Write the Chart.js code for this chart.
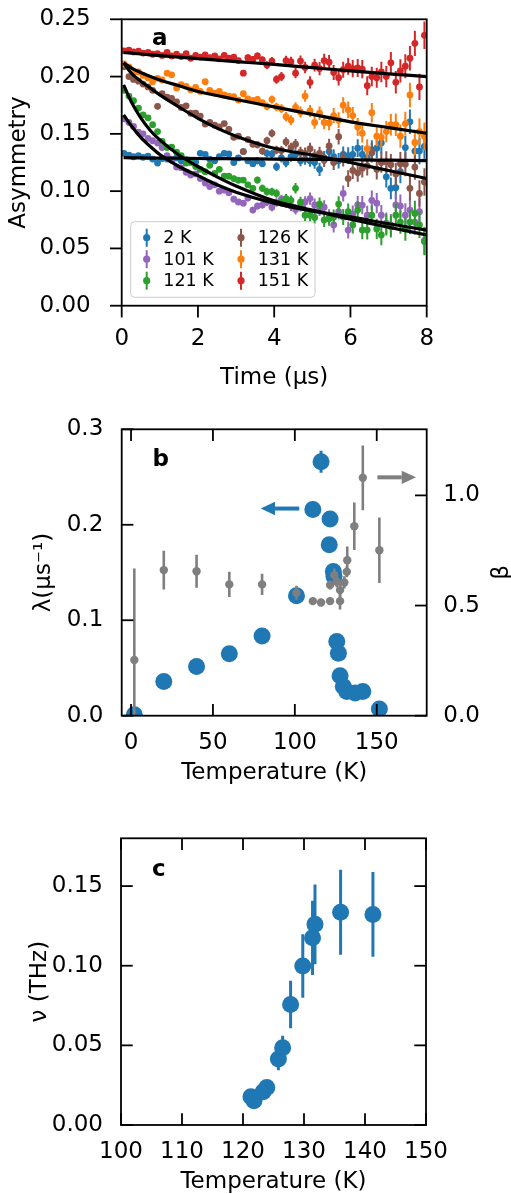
<!DOCTYPE html>
<html>
<head>
<meta charset="utf-8">
<script src="https://cdn.jsdelivr.net/npm/chart.js@4.4.0/dist/chart.umd.min.js"></script>
<style>
  html, body { margin: 0; padding: 0; background: #fff; }
  #wrap { position: relative; width: 511px; height: 1194px; }
  canvas { position: absolute; left: 0; }
</style>
</head>
<body>
<div id="wrap">
  <canvas id="chartA" width="511" height="400" style="top:0px"></canvas>
  <canvas id="chartB" width="511" height="400" style="top:400px"></canvas>
  <canvas id="chartC" width="511" height="394" style="top:800px"></canvas>
</div>
<script>
// ---- panel a : asymmetry vs time ----
var timeA = [0.06,0.19,0.31,0.44,0.56,0.69,0.81,0.94,
  1.06,1.19,1.31,1.44,1.56,1.69,1.81,1.94,
  2.06,2.19,2.31,2.44,2.56,2.69,2.81,2.94,
  3.06,3.19,3.31,3.44,3.56,3.69,3.81,3.94,
  4.06,4.19,4.31,4.44,4.56,4.69,4.81,4.94,
  5.06,5.19,5.31,5.44,5.56,5.69,5.81,5.94,
  6.06,6.19,6.31,6.44,6.56,6.69,6.81,6.94,
  7.06,7.19,7.31,7.44,7.56,7.69,7.81,7.94];

var errA = [.0008,.0008,.0009,.0009,.0010,.0010,.0011,.0011,
  .0012,.0012,.0013,.0014,.0014,.0015,.0016,.0017,
  .0017,.0018,.0019,.0020,.0021,.0022,.0023,.0024,
  .0025,.0026,.0028,.0029,.0031,.0032,.0034,.0035,
  .0037,.0039,.0041,.0043,.0045,.0048,.0050,.0053,
  .0055,.0058,.0060,.0063,.0065,.0068,.0070,.0073,
  .0075,.0078,.0080,.0083,.0085,.0088,.0090,.0093,
  .0095,.0098,.0101,.0104,.0107,.0111,.0115,.0120];

var asym2K = [.1330,.1315,.1300,.1310,.1295,.1305,.1280,.1245,
  .1285,.1280,.1270,.1290,.1265,.1275,.1260,.1255,
  .1330,.1320,.1280,.1265,.1300,.1330,.1325,.1250,
  .1290,.1345,.1265,.1240,.1265,.1240,.1330,.1325,
  .1213,.1290,.1250,.1300,.1320,.1265,.1280,.1265,
  .1250,.1190,.1290,.1345,.1300,.1265,.1320,.1310,
  .1320,.1375,.1320,.1290,.1360,.1375,.1420,.1125,
  .1025,.1030,.1170,.1380,.1605,.1350,.1350,.1390];

var asym101K = [.1630,.1600,.1565,.1515,.1500,.1460,.1440,.1420,
  .1380,.1310,.1280,.1210,.1205,.1165,.1140,.1150,
  .1110,.1070,.1040,.1055,.1000,.1010,.0985,.0930,
  .0905,.0895,.0940,.0835,.0870,.0880,.0905,.0860,
  .0900,.0930,.0895,.0870,.0840,.0870,.0905,.0935,
  .0880,.0840,.0860,.0780,.0705,.0820,.0980,.0660,
  .0800,.0880,.0878,.0790,.0920,.0895,.0790,.0720,
  .0705,.0880,.0870,.0790,.0835,.0730,.0820,.0570];

var asym121K = [.1880,.1830,.1790,.1725,.1665,.1640,.1580,.1520,
  .1435,.1380,.1385,.1340,.1310,.1245,.1250,.1215,
  .1190,.1170,.1225,.1155,.1190,.1130,.1130,.1110,
  .1095,.1097,.1055,.1025,.1097,.1025,.0995,.0995,
  .0980,.0904,.0935,.0920,.1025,.0904,.0790,.0790,
  .0770,.0887,.0747,.0760,.0775,.0887,.0775,.0820,
  .0705,.0835,.0660,.0660,.0790,.0670,.0617,.0705,
  .0690,.0790,.0730,.0670,.0730,.0805,.0705,.0560];

var asym126K = [.2085,.2000,.1975,.1960,.1935,.1910,.1880,.1740,
  .1850,.1820,.1810,.1780,.1730,.1745,.1680,.1680,
  .1655,.1585,.1600,.1575,.1560,.1590,.1540,.1470,
  .1480,.1345,.1450,.1410,.1405,.1350,.1440,.1505,
  .1360,.1355,.1430,.1380,.1410,.1340,.1330,.1370,
  .1310,.1330,.1270,.1395,.1250,.1475,.1285,.1110,
  .1180,.1160,.1200,.1220,.1335,.1190,.1250,.1255,
  .1230,.1150,.1240,.1235,.1025,.1210,.0980,.1080];

var asym131K = [.2110,.2085,.2040,.2040,.2010,.1990,.1955,.1985,
  .1970,.2030,.2015,.1900,.1930,.1915,.1885,.1905,
  .1870,.1955,.1880,.1855,.1870,.1840,.1830,.1825,
  .1795,.1850,.1805,.1790,.1800,.1770,.1740,.1800,
  .1735,.1720,.1650,.1620,.1730,.1690,.1830,.1700,
  .1600,.1680,.1600,.1595,.1660,.1620,.1750,.1710,
  .1660,.1560,.1505,.1370,.1685,.1480,.1470,.1520,
  .1580,.1580,.1480,.1590,.1840,.1425,.1520,.1480];

var asym151K = [.2225,.2230,.2215,.2222,.2205,.2210,.2195,.2200,
  .2185,.2210,.2180,.2195,.2175,.2200,.2160,.2185,
  .2170,.2190,.2165,.2180,.2155,.2185,.2160,.2170,
  .2140,.2030,.2165,.2150,.2180,.2145,.2100,.2135,
  .1975,.2000,.2140,.2130,.2030,.2135,.2080,.1950,
  .2100,.2070,.2140,.2125,.2035,.1990,.2060,.2090,
  .2070,.2075,.2065,.1920,.2000,.1990,.2040,.2000,
  .2120,.1950,.2050,.2090,.2160,.2290,.1910,.2360];

// fitted curves
var fitTime = [0.05,0.25,0.5,0.75,1,1.5,2,2.5,3,4,5,6,7,8];
var fit2K   = [.1292,.1291,.1290,.1289,.1288,.1287,.1285,.1284,.1282,.1280,.1277,.1274,.1270,.1266];
var fit101K = [.1665,.1570,.1470,.1390,.1320,.1215,.1135,.1055,.0990,.0895,.0825,.0775,.0715,.0660];
var fit121K = [.1927,.1780,.1640,.1530,.1447,.1315,.1215,.1125,.1045,.0915,.0835,.0755,.0685,.0617];
var fit126K = [.2120,.2030,.1960,.1900,.1840,.1735,.1636,.1550,.1480,.1374,.1315,.1250,.1180,.1110];
var fit131K = [.2120,.2075,.2035,.2000,.1970,.1920,.1870,.1835,.1800,.1735,.1670,.1605,.1555,.1505];
var fit151K = [.2210,.2204,.2197,.2190,.2183,.2170,.2157,.2144,.2131,.2106,.2078,.2050,.2024,.2000];

var tickA_x = [0, 2, 4, 6, 8];
var tickA_y = [0, 0.05, 0.10, 0.15, 0.20, 0.25];

// ---- panel b : lambda and beta vs temperature ----
var tempLam   = [2, 20, 40, 60, 80, 101, 111, 116, 121.5, 121, 123.5, 123.9, 125.6, 126.6, 127.6, 129.6, 131.7, 136.8, 141.5, 151.6];
var lambdaVal = [.001, .0358, .0515, .0648, .0836, .1257, .216, .266, .206, .179, .151, .146, .0777, .0655, .0418, .0306, .0254, .0237, .0254, .007];
var lambdaErr = [.002, .002, .002, .002, .002, .003, .004, .0115, .004, .004, .003, .003, .003, .003, .002, .002, .002, .002, .002, .002];

var tempBeta = [2, 20, 40, 60, 80, 101, 111, 116, 121.5, 121.5, 124.1, 125.6, 127.6, 127.6, 130.2, 131.7, 132, 136.3, 141.5, 151.6];
var betaVal  = [.253, .661, .656, .596, .596, .558, .520, .514, .520, .593, .638, .608, .520, .570, .605, .653, .706, .860, 1.080, .751];
var betaErr  = [.415, .088, .075, .057, .048, .032, .010, .010, .012, .020, .030, .025, .038, .030, .028, .025, .062, .108, .147, .149];

var arrowLam  = [102.7, 79.2, 0.217];   // from T, to T, at lambda
var arrowBeta = [150.4, 174.0, 1.082];  // from T, to T, at beta

var tickB_x = [0, 50, 100, 150];
var tickB_y = [0, 0.1, 0.2, 0.3];
var tickB_beta = [0, 0.5, 1.0];

// ---- panel c : nu vs temperature ----
var tempNu = [121.3, 121.8, 123.3, 123.9, 125.8, 126.5, 127.8, 129.8, 131.4, 131.8, 136.0, 141.3];
var nuVal  = [.0178, .0153, .0209, .0236, .0414, .0485, .0757, .0998, .1175, .1260, .1336, .1322];
var nuErr  = [.002, .002, .002, .002, .007, .0075, .0149, .0199, .0233, .025, .0267, .0266];

var tickC_x = [100, 110, 120, 130, 140, 150];
var tickC_y = [0, 0.05, 0.10, 0.15];

// colours (matplotlib tab10)
var C_BLUE = '#1f77b4', C_ORANGE = '#ff7f0e', C_GREEN = '#2ca02c', C_RED = '#d62728',
    C_PURPLE = '#9467bd', C_BROWN = '#8c564b', C_GREY = '#7f7f7f';

Chart.defaults.font.family = 'DejaVu Sans';
Chart.defaults.font.size = 23;
Chart.defaults.color = '#000';

function pts(xs, ys) {
    return xs.map(function (x, i) { return { x: x, y: ys[i] }; });
}

// vertical error bars, drawn under the markers of their own dataset
var errorBarPlugin = {
    id: 'errorBars',
    beforeDatasetDraw: function (chart, args) {
        var ds = chart.data.datasets[args.index];
        if (!ds.err) return;
        var meta = args.meta, ys = chart.scales[meta.yAxisID], a = chart.chartArea, ctx = chart.ctx;
        ctx.save();
        ctx.beginPath();
        ctx.rect(a.left, a.top, a.right - a.left, a.bottom - a.top);
        ctx.clip();
        ctx.strokeStyle = ds.backgroundColor;
        ctx.lineWidth = ds.errWidth || 2;
        for (var i = 0; i < ds.data.length; i++) {
            var x = meta.data[i].x, v = ds.data[i].y, e = ds.err[i];
            ctx.beginPath();
            ctx.moveTo(x, ys.getPixelForValue(v - e));
            ctx.lineTo(x, ys.getPixelForValue(v + e));
            ctx.stroke();
        }
        ctx.restore();
    }
};

// box + tick marks (matplotlib style)
function makeFrame(specs) {
    return {
        id: 'frame',
        afterDatasetsDraw: function (chart) {
            var ctx = chart.ctx, a = chart.chartArea, TL = 11.7;
            ctx.save();
            ctx.strokeStyle = '#000';
            ctx.lineWidth = 1.8;
            specs.forEach(function (s) {
                var sc = chart.scales[s.scale];
                var d = s.dir === 'in' ? -TL : TL;
                s.values.forEach(function (v) {
                    var p = sc.getPixelForValue(v);
                    ctx.beginPath();
                    if (s.side === 'bottom') { ctx.moveTo(p, a.bottom); ctx.lineTo(p, a.bottom + d); }
                    if (s.side === 'top') { ctx.moveTo(p, a.top); ctx.lineTo(p, a.top - d); }
                    if (s.side === 'left') { ctx.moveTo(a.left, p); ctx.lineTo(a.left - d, p); }
                    if (s.side === 'right') { ctx.moveTo(a.right, p); ctx.lineTo(a.right + d, p); }
                    ctx.stroke();
                });
            });
            ctx.strokeRect(a.left, a.top, a.right - a.left, a.bottom - a.top);
            ctx.restore();
        }
    };
}

// bold panel letter at data position
function makeLetter(text, xv, yv, yId) {
    return {
        id: 'letter',
        afterDraw: function (chart) {
            var ctx = chart.ctx;
            ctx.save();
            ctx.font = 'bold 23px "DejaVu Sans"';
            ctx.fillStyle = '#000';
            ctx.textAlign = 'center';
            ctx.textBaseline = 'middle';
            ctx.fillText(text, chart.scales.x.getPixelForValue(xv), chart.scales[yId].getPixelForValue(yv));
            ctx.restore();
        }
    };
}

function scaleBase(min, max, ticks, size, pad, fmt) {
    return {
        type: 'linear', min: min, max: max,
        grid: { display: false, drawTicks: false },
        border: { display: false },
        afterBuildTicks: function (s) { s.ticks = ticks.map(function (v) { return { value: v }; }); },
        ticks: { padding: pad, maxRotation: 0, autoSkip: false, callback: function (v) { return v.toFixed(fmt); } },
        afterFit: function (s) {
            if (s.isHorizontal()) s.height = size; else s.width = size;
            // keep the plot box where the layout padding puts it
            s.paddingTop = 0; s.paddingBottom = 0; s.paddingLeft = 0; s.paddingRight = 0;
        }
    };
}

// ================= panel a =================
var seriesA = [
    { label: '2 K', y: asym2K, fit: fit2K, color: C_BLUE },
    { label: '101 K', y: asym101K, fit: fit101K, color: C_PURPLE },
    { label: '121 K', y: asym121K, fit: fit121K, color: C_GREEN },
    { label: '126 K', y: asym126K, fit: fit126K, color: C_BROWN },
    { label: '131 K', y: asym131K, fit: fit131K, color: C_ORANGE },
    { label: '151 K', y: asym151K, fit: fit151K, color: C_RED }
];

var datasetsA = [];
seriesA.forEach(function (s, i) {
    datasetsA.push({
        label: s.label, data: pts(timeA, s.y), err: errA, errWidth: 2,
        backgroundColor: s.color, pointBackgroundColor: s.color, pointBorderWidth: 0,
        pointRadius: 3.4, showLine: false, order: 6 - i, inLegend: true
    });
});
seriesA.forEach(function (s) {
    datasetsA.push({
        label: s.label + ' fit', data: pts(fitTime, s.fit), showLine: true,
        borderColor: '#000', borderWidth: 3.2, pointRadius: 0,
        cubicInterpolationMode: 'monotone', order: 0
    });
});

var legendA = {
    id: 'legendA',
    afterDraw: function (chart) {
        var ctx = chart.ctx, a = chart.chartArea;
        var x0 = a.left + 9, y0 = a.bottom - 84, w = 184.3, h = 75.6;
        ctx.save();
        ctx.beginPath();
        ctx.roundRect(x0, y0, w, h, 4);
        ctx.fillStyle = 'rgba(255,255,255,0.8)';
        ctx.fill();
        ctx.strokeStyle = '#cccccc';
        ctx.lineWidth = 1;
        ctx.stroke();
        ctx.font = '17.5px "DejaVu Sans"';
        ctx.textBaseline = 'middle';
        ctx.textAlign = 'left';
        var items = chart.data.datasets.filter(function (d) { return d.inLegend; });
        items.forEach(function (d, i) {
            var col = Math.floor(i / 3), row = i % 3;
            var ix = x0 + (col === 0 ? 16 : 110.3);
            var tx = x0 + (col === 0 ? 32.6 : 127);
            var iy = y0 + 16 + row * 21.5;
            ctx.strokeStyle = d.backgroundColor;
            ctx.lineWidth = 2;
            ctx.beginPath();
            ctx.moveTo(ix, iy - 9);
            ctx.lineTo(ix, iy + 9);
            ctx.stroke();
            ctx.fillStyle = d.backgroundColor;
            ctx.beginPath();
            ctx.arc(ix, iy, 3.6, 0, Math.PI * 2);
            ctx.fill();
            ctx.fillStyle = '#000';
            ctx.fillText(d.label, tx, iy + 1);
        });
        ctx.restore();
    }
};

var xA = scaleBase(0, 8, tickA_x, 94.3, 20, 0);
xA.title = { display: true, text: 'Time (μs)', padding: { top: 0, bottom: 10.5 }, font: { size: 23, lineHeight: 1 } };
var yA = scaleBase(0, 0.25, tickA_y, 121.7, 31, 2);
yA.title = { display: true, text: 'Asymmetry', padding: { top: 7.5, bottom: 0 }, font: { size: 23, lineHeight: 1 } };

new Chart(document.getElementById('chartA'), {
    type: 'scatter',
    data: { datasets: datasetsA },
    options: {
        responsive: false, animation: false, events: [],
        layout: { padding: { top: 19.3, right: 84.3, left: 0, bottom: 0 } },
        plugins: { legend: { display: false }, tooltip: { enabled: false } },
        scales: { x: xA, y: yA }
    },
    plugins: [errorBarPlugin,
        makeFrame([{ scale: 'x', side: 'bottom', dir: 'out', values: tickA_x },
                   { scale: 'y', side: 'left', dir: 'out', values: tickA_y }]),
        legendA, makeLetter('a', 1.0, 0.233, 'y')]
});

// ================= panel b =================
function drawArrow(ctx, x1, x2, y, color) {
    var dir = x2 > x1 ? 1 : -1, headL = 14.3, headW = 6.7;
    ctx.strokeStyle = color;
    ctx.fillStyle = color;
    ctx.lineWidth = 4;
    ctx.beginPath();
    ctx.moveTo(x1, y);
    ctx.lineTo(x2 - dir * headL, y);
    ctx.stroke();
    ctx.beginPath();
    ctx.moveTo(x2, y);
    ctx.lineTo(x2 - dir * headL, y - headW);
    ctx.lineTo(x2 - dir * headL, y + headW);
    ctx.closePath();
    ctx.fill();
}

var extrasB = {
    id: 'extrasB',
    afterDraw: function (chart) {
        var ctx = chart.ctx, x = chart.scales.x, a = chart.chartArea;
        ctx.save();
        drawArrow(ctx, x.getPixelForValue(arrowLam[0]), x.getPixelForValue(arrowLam[1]),
            chart.scales.y.getPixelForValue(arrowLam[2]), C_BLUE);
        drawArrow(ctx, x.getPixelForValue(arrowBeta[0]), x.getPixelForValue(arrowBeta[1]),
            chart.scales.y2.getPixelForValue(arrowBeta[2]), C_GREY);
        // right axis label, read bottom to top as in matplotlib
        ctx.translate(a.right + 75, (a.top + a.bottom) / 2);
        ctx.rotate(-Math.PI / 2);
        ctx.font = '23px "DejaVu Sans"';
        ctx.fillStyle = '#000';
        ctx.textAlign = 'center';
        ctx.textBaseline = 'middle';
        ctx.fillText('β', 0, 0);
        ctx.restore();
    }
};

var xB = scaleBase(-5.7, 180.5, tickB_x, 84.3, 14, 0);
xB.title = { display: true, text: 'Temperature (K)', padding: { top: 0, bottom: 15.5 }, font: { size: 23, lineHeight: 1 } };
var yB = scaleBase(0, 0.3, tickB_y, 121.7, 18.4, 1);
yB.title = { display: true, text: 'λ(μs⁻¹)', padding: { top: 32.5, bottom: 0 }, font: { size: 23, lineHeight: 1 } };
var y2B = scaleBase(0, 1.3, tickB_beta, 84.3, 16.6, 1);
y2B.position = 'right';

new Chart(document.getElementById('chartB'), {
    type: 'scatter',
    data: {
        datasets: [
            { label: 'λ', data: pts(tempLam, lambdaVal), err: lambdaErr, errWidth: 3, yAxisID: 'y',
              backgroundColor: C_BLUE, pointBorderWidth: 0, pointRadius: 8.5, order: 1 },
            { label: 'β', data: pts(tempBeta, betaVal), err: betaErr, errWidth: 2.6, yAxisID: 'y2',
              backgroundColor: C_GREY, pointBorderWidth: 0, pointRadius: 4.2, order: 0 }
        ]
    },
    options: {
        responsive: false, animation: false, events: [],
        layout: { padding: { top: 29.3, right: 0, left: 0, bottom: 0 } },
        plugins: { legend: { display: false }, tooltip: { enabled: false } },
        scales: { x: xB, y: yB, y2: y2B }
    },
    plugins: [errorBarPlugin,
        makeFrame([{ scale: 'x', side: 'bottom', dir: 'in', values: tickB_x },
                   { scale: 'x', side: 'top', dir: 'in', values: tickB_x },
                   { scale: 'y', side: 'left', dir: 'in', values: tickB_y },
                   { scale: 'y2', side: 'right', dir: 'in', values: tickB_beta }]),
        extrasB, makeLetter('b', 18.2, 0.268, 'y')]
});

// ================= panel c =================
var xC = scaleBase(100, 150, tickC_x, 69, 13, 0);
xC.title = { display: true, text: 'Temperature (K)', padding: { top: 0, bottom: 0.5 }, font: { size: 23, lineHeight: 1 } };
var yC = scaleBase(0, 0.18, tickC_y, 121, 18, 2);
yC.title = { display: true, text: 'ν (THz)', padding: { top: 28.5, bottom: 0 }, font: { size: 23, lineHeight: 1 } };

new Chart(document.getElementById('chartC'), {
    type: 'scatter',
    data: {
        datasets: [
            { label: 'ν', data: pts(tempNu, nuVal), err: nuErr, errWidth: 3,
              backgroundColor: C_BLUE, pointBorderWidth: 0, pointRadius: 8.5 }
        ]
    },
    options: {
        responsive: false, animation: false, events: [],
        layout: { padding: { top: 38.3, right: 85, left: 0, bottom: 0 } },
        plugins: { legend: { display: false }, tooltip: { enabled: false } },
        scales: { x: xC, y: yC }
    },
    plugins: [errorBarPlugin,
        makeFrame([{ scale: 'x', side: 'bottom', dir: 'in', values: tickC_x },
                   { scale: 'x', side: 'top', dir: 'in', values: tickC_x },
                   { scale: 'y', side: 'left', dir: 'in', values: tickC_y },
                   { scale: 'y', side: 'right', dir: 'in', values: tickC_y }]),
        makeLetter('c', 106.2, 0.160, 'y')]
});
</script>
</body>
</html>
